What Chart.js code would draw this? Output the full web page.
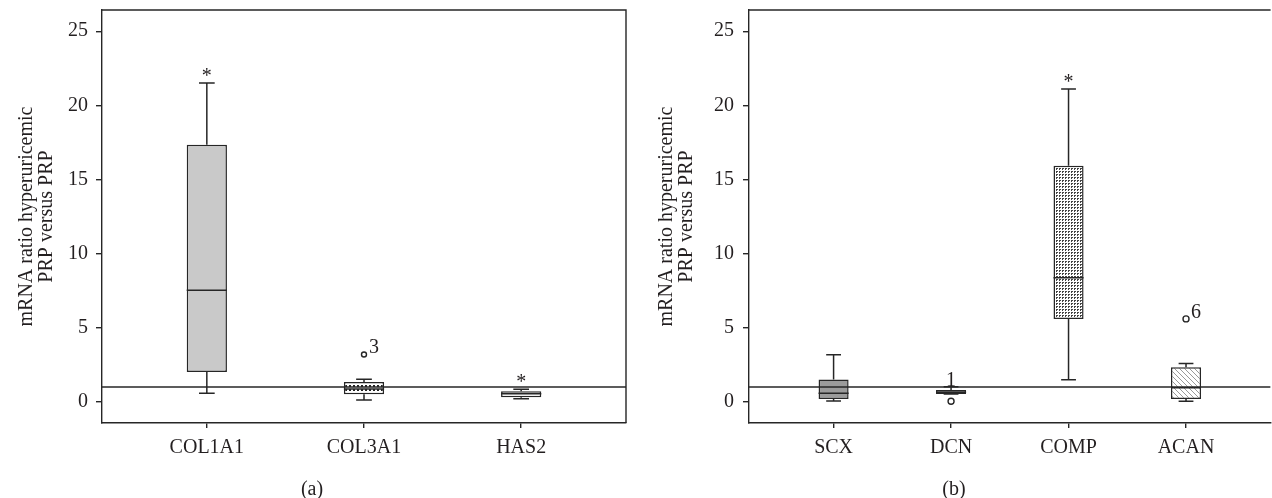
<!DOCTYPE html>
<html>
<head>
<meta charset="utf-8">
<title>mRNA ratio hyperuricemic PRP versus PRP</title>
<script src="https://cdn.jsdelivr.net/npm/chart.js"></script>
<style>
    html, body { margin: 0; padding: 0; background: #fff; overflow: hidden; }
    body { width: 1280px; height: 498px; position: relative; }
    .panel { position: absolute; top: 0; height: 498px; }
    #panelA { left: 0; width: 636px; }
    #panelB { left: 636px; width: 640px; }
    canvas { display: block; }
    .caption {
        position: absolute; top: 478px; width: 60px; text-align: center;
        font: 20px 'Liberation Serif', 'Times New Roman', serif; line-height: 20px; color: #231f20;
    }
</style>
</head>
<body>
<div class="panel" id="panelA"><canvas id="chartA" width="636" height="498" style="width:636px;height:498px"></canvas></div>
<div class="panel" id="panelB"><canvas id="chartB" width="640" height="498" style="width:640px;height:498px"></canvas></div>
<div class="caption" style="left:282px">(a)</div>
<div class="caption" style="left:924px">(b)</div>

<script>
// Panel (a)
let genesA = ['COL1A1', 'COL3A1', 'HAS2'];
let minA = [0.59, 0.13, 0.22];
let q1A = [2.02, 0.52, 0.32];
let medianA = [7.53, 0.88, 0.55];
let q3A = [17.34, 1.35, 0.72];
let maxA = [21.5, 1.53, 0.86];
let topMarkA = ['*', '', '*'];
let outlierGeneA = ['COL3A1'];
let outlierValueA = [3.2];
let outlierCaseA = ['3'];

// Panel (b)
let genesB = ['SCX', 'DCN', 'COMP', 'ACAN'];
let minB = [0.07, 0.54, 1.5, 0.04];
let q1B = [0.19, 0.54, 5.59, 0.19];
let medianB = [0.58, 0.65, 8.38, 0.96];
let q3B = [1.52, 0.81, 15.93, 2.34];
let maxB = [3.19, 1.03, 21.1, 2.59];
let topMarkB = ['', '1', '*', ''];
let outlierGeneB = ['DCN', 'ACAN'];
let outlierValueB = [0.05, 5.6];
let outlierCaseB = ['', '6'];

// shared axis
let yTicks = [0, 5, 10, 15, 20, 25];
let refLevel = 1;
let yTitle = ['mRNA ratio hyperuricemic', 'PRP versus PRP'];

let fontFamily = "'Liberation Serif', 'Times New Roman', serif";
let ink = '#231f20';
let lineInk = '#262626';

function makePattern(size, drawTile) {
    let tile = document.createElement('canvas');
    tile.width = size;
    tile.height = size;
    let g = tile.getContext('2d');
    g.fillStyle = '#ffffff';
    g.fillRect(0, 0, size, size);
    drawTile(g);
    return g.createPattern(tile, 'repeat');
}

let dotPattern = makePattern(4, g => { g.fillStyle = '#222'; g.fillRect(1, 1, 2, 2); });
let finePattern = makePattern(3, g => { g.fillStyle = '#444'; g.fillRect(0, 0, 2, 2); g.fillStyle = '#fff'; g.fillRect(1, 1, 1, 1); });
let hatchPattern = makePattern(5, g => {
    g.fillStyle = '#9a9a9a';
    for (let i = 0; i < 5; i++) g.fillRect(i, i, 1, 1);
});

function whiskerPoints(mins, q1s, medians, q3s, maxs, capHalf, boxHalf) {
    let pts = [];
    for (let i = 0; i < mins.length; i++) {
        let c = i + 1;
        pts.push({x: c, y: q3s[i]}, {x: c, y: maxs[i]}, {x: c, y: null});
        pts.push({x: c - capHalf, y: maxs[i]}, {x: c + capHalf, y: maxs[i]}, {x: c, y: null});
        pts.push({x: c, y: q1s[i]}, {x: c, y: mins[i]}, {x: c, y: null});
        pts.push({x: c - capHalf, y: mins[i]}, {x: c + capHalf, y: mins[i]}, {x: c, y: null});
        pts.push({x: c - boxHalf, y: medians[i]}, {x: c + boxHalf, y: medians[i]}, {x: c, y: null});
    }
    return pts;
}

// frame (top/right) plus the text marks: asterisks and case numbers
function marksPlugin(genes, maxs, topMarks, outGenes, outValues, outCases, rightBorder) {
    return {
        id: 'marks',
        afterDatasetsDraw(chart) {
            const {ctx, chartArea, scales: {x, y}} = chart;
            ctx.save();
            ctx.strokeStyle = lineInk;
            ctx.lineWidth = 1.4;
            ctx.beginPath();
            ctx.moveTo(chartArea.left, chartArea.top);
            ctx.lineTo(chartArea.right, chartArea.top);
            if (rightBorder) ctx.lineTo(chartArea.right, chartArea.bottom);
            ctx.stroke();

            ctx.font = '20px ' + fontFamily;
            ctx.fillStyle = ink;
            ctx.textAlign = 'center';
            ctx.textBaseline = 'alphabetic';
            topMarks.forEach((m, i) => {
                if (m) ctx.fillText(m, x.getPixelForValue(i + 1), y.getPixelForValue(maxs[i]) - 1);
            });
            ctx.textAlign = 'left';
            outGenes.forEach((g, i) => {
                if (!outCases[i]) return;
                let px = x.getPixelForValue(genes.indexOf(g) + 1);
                let py = y.getPixelForValue(outValues[i]);
                ctx.fillText(outCases[i], px + 5, py - 1);
            });
            ctx.restore();
        }
    };
}

function noPadding(s) {
    s.paddingTop = 0;
    s.paddingBottom = 0;
    s.paddingLeft = 0;
    s.paddingRight = 0;
}

function buildChart(canvasId, p) {
    let boxHalf = 0.128;
    let chart = new Chart(document.getElementById(canvasId), {
        type: 'bar',
        data: {
            datasets: [
                {
                    type: 'line',
                    data: [{x: p.xMin, y: refLevel}, {x: p.xMax, y: refLevel}],
                    borderColor: lineInk,
                    borderWidth: 1.5,
                    pointRadius: 0,
                    order: 0
                },
                {
                    type: 'line',
                    data: whiskerPoints(p.mins, p.q1s, p.medians, p.q3s, p.maxs, p.capHalf, boxHalf),
                    borderColor: lineInk,
                    borderWidth: 1.5,
                    pointRadius: 0,
                    tension: 0,
                    spanGaps: false,
                    order: 1
                },
                {
                    type: 'scatter',
                    data: p.outGenes.map((g, i) => ({x: p.genes.indexOf(g) + 1, y: p.outValues[i]})),
                    pointStyle: 'circle',
                    pointRadius: p.outRadius,
                    pointBorderWidth: 1.4,
                    backgroundColor: '#ffffff',
                    borderColor: lineInk,
                    order: 0
                },
                {
                    type: 'bar',
                    data: p.genes.map((g, i) => ({x: i + 1, y: [p.q1s[i], p.q3s[i]]})),
                    backgroundColor: p.fills,
                    borderColor: lineInk,
                    borderWidth: 1.5,
                    borderSkipped: false,
                    barPercentage: 0.256,
                    categoryPercentage: 1,
                    order: 2
                }
            ]
        },
        options: {
            responsive: false,
            animation: false,
            events: [],
            layout: { padding: { top: 10, right: p.padRight, left: 0, bottom: 0 } },
            plugins: { legend: { display: false }, tooltip: { enabled: false } },
            scales: {
                x: {
                    type: 'linear',
                    min: p.xMin,
                    max: p.xMax,
                    offset: false,
                    afterBuildTicks: s => { s.ticks = p.genes.map((g, i) => ({value: i + 1})); },
                    afterFit: s => { s.height = 75; noPadding(s); },
                    ticks: {
                        callback: v => p.genes[v - 1],
                        autoSkip: false,
                        maxRotation: 0,
                        padding: 7.5,
                        color: ink,
                        font: { family: fontFamily, size: 20 }
                    },
                    grid: { display: true, offset: false, drawOnChartArea: false, drawTicks: true, tickLength: 5, color: lineInk, lineWidth: 1.4 },
                    border: { display: true, color: lineInk, width: 1.4 }
                },
                y: {
                    type: 'linear',
                    min: -1.42,
                    max: 26.43,
                    afterBuildTicks: s => { s.ticks = yTicks.map(v => ({value: v})); },
                    afterFit: s => { s.width = p.axisWidth; noPadding(s); },
                    ticks: {
                        padding: p.tickPad,
                        color: ink,
                        font: { family: fontFamily, size: 20 }
                    },
                    grid: { display: true, offset: false, drawOnChartArea: false, drawTicks: true, tickLength: 6, color: lineInk, lineWidth: 1.4 },
                    border: { display: true, color: lineInk, width: 1.4 },
                    title: {
                        display: true,
                        text: yTitle,
                        color: ink,
                        font: { family: fontFamily, size: 20, lineHeight: 1.0 },
                        padding: { top: p.titlePad, bottom: 0 }
                    }
                }
            }
        },
        plugins: [marksPlugin(p.genes, p.maxs, p.topMarks, p.outGenes, p.outValues, p.outCases, p.rightBorder)]
    });
    // make the plot area end exactly where the figure's frame is
    let diff = chart.chartArea.right - p.areaRight;
    if (Math.abs(diff) > 0.2) {
        chart.options.layout.padding.right = p.padRight + diff;
        chart.update();
    }
    return chart;
}

buildChart('chartA', {
    genes: genesA, mins: minA, q1s: q1A, medians: medianA, q3s: q3A, maxs: maxA,
    topMarks: topMarkA, outGenes: outlierGeneA, outValues: outlierValueA, outCases: outlierCaseA,
    fills: ['#c9c9c9', dotPattern, '#ffffff'],
    xMin: 0.333, xMax: 3.667, capHalf: 0.05, outRadius: 2.5,
    axisWidth: 102, tickPad: 8, titlePad: 17, padRight: 10, areaRight: 626, rightBorder: true
});

buildChart('chartB', {
    genes: genesB, mins: minB, q1s: q1B, medians: medianB, q3s: q3B, maxs: maxB,
    topMarks: topMarkB, outGenes: outlierGeneB, outValues: outlierValueB, outCases: outlierCaseB,
    fills: ['#9b9b9b', '#6a6a6a', finePattern, hatchPattern],
    xMin: 0.28, xMax: 4.72, capHalf: 0.063, outRadius: 3,
    axisWidth: 113, tickPad: 9, titlePad: 21, padRight: 3, areaRight: 637, rightBorder: false
});
</script>
</body>
</html>
